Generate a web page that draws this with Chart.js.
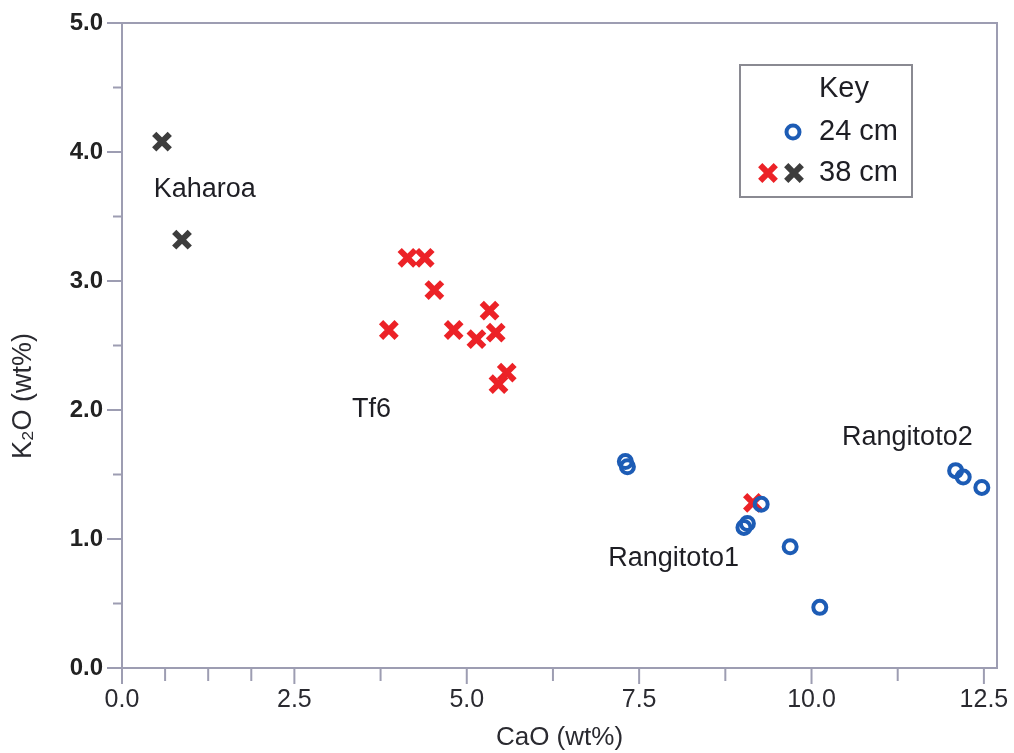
<!DOCTYPE html>
<html>
<head>
<meta charset="utf-8">
<script src="https://cdn.jsdelivr.net/npm/chart.js@4/dist/chart.umd.min.js"></script>
<style>
  html, body { margin:0; padding:0; background:#fff; }
  #wrap { width:1014px; height:753px; }
</style>
</head>
<body>
<div id="wrap"><canvas id="chart" width="1014" height="753"></canvas></div>
<script>
/* ---- data ---- */
// 24 cm samples (blue open circles)
const cm24X = [7.30, 7.33, 9.27, 9.07, 9.02, 9.69, 10.12, 12.09, 12.20, 12.47];
const cm24Y = [1.60, 1.56, 1.27, 1.12, 1.09, 0.94, 0.47, 1.53, 1.48, 1.40];
// 38 cm samples, Tf6 + one stray (red crosses)
const cm38RedX = [3.87, 4.14, 4.39, 4.53, 4.81, 5.14, 5.33, 5.42, 5.58, 5.46, 9.15];
const cm38RedY = [2.62, 3.18, 3.18, 2.93, 2.62, 2.55, 2.77, 2.60, 2.29, 2.20, 1.28];
// 38 cm samples, Kaharoa (dark crosses)
const cm38GrayX = [0.58, 0.87];
const cm38GrayY = [4.08, 3.32];

// group labels (data coords of text centre)
const groupNames = ['Kaharoa', 'Tf6', 'Rangitoto1', 'Rangitoto2'];
const groupX = [1.20, 3.62, 8.00, 11.39];
const groupY = [3.71, 2.00, 0.85, 1.79];

// axis ticks
const xTickLabels = [0, 2.5, 5, 7.5, 10, 12.5];
const xMinorTicks = [0.625, 1.25, 1.875, 3.75, 6.25, 8.75, 11.25];
const yTickLabels = [0, 1, 2, 3, 4, 5];
const yMinorTicks = [0.5, 1.5, 2.5, 3.5, 4.5];

const BLUE = '#1d5cb5', RED = '#ec2227', DARK = '#3d3d3d';
const AXIS = '#9d9db2';
const SANS = '"Liberation Sans", Arial, sans-serif';

const pts = (xs, ys) => xs.map((x, i) => ({ x, y: ys[i] }));

// tick marks, frame, group labels, key box, y title
const decor = {
  id: 'decor',
  afterDraw(chart) {
    const { ctx, chartArea: a, scales: { x, y } } = chart;
    ctx.save();
    ctx.strokeStyle = AXIS;
    ctx.lineWidth = 2;
    // top + right frame
    ctx.beginPath();
    ctx.moveTo(a.left, a.top); ctx.lineTo(a.right, a.top); ctx.lineTo(a.right, a.bottom);
    ctx.stroke();
    // outward ticks
    const tickX = (v, len) => { const p = x.getPixelForValue(v); ctx.beginPath(); ctx.moveTo(p, a.bottom); ctx.lineTo(p, a.bottom + len); ctx.stroke(); };
    const tickY = (v, len) => { const p = y.getPixelForValue(v); ctx.beginPath(); ctx.moveTo(a.left, p); ctx.lineTo(a.left - len, p); ctx.stroke(); };
    xTickLabels.forEach(v => tickX(v, 16));
    xMinorTicks.forEach(v => tickX(v, 13));
    yTickLabels.forEach(v => tickY(v, 15));
    yMinorTicks.forEach(v => tickY(v, 9));

    // group labels
    ctx.fillStyle = '#1e1e24';
    ctx.font = '27px ' + SANS;
    ctx.textAlign = 'center';
    ctx.textBaseline = 'middle';
    groupNames.forEach((n, i) => ctx.fillText(n, x.getPixelForValue(groupX[i]), y.getPixelForValue(groupY[i])));

    // key box
    const bx = a.right - 257, by = a.top + 42, bw = 172, bh = 132;
    ctx.strokeStyle = '#8a8a92';
    ctx.lineWidth = 2;
    ctx.strokeRect(bx, by, bw, bh);
    ctx.font = '29px ' + SANS;
    ctx.fillText('Key', bx + 104, by + 24);
    ctx.textAlign = 'left';
    ctx.fillText('24 cm', bx + 79, by + 67);
    ctx.fillText('38 cm', bx + 79, by + 108);
    const ds = chart.data.datasets;
    const mark = (d, px, py) => {
      ctx.strokeStyle = d.borderColor; ctx.fillStyle = d.backgroundColor; ctx.lineWidth = d.borderWidth;
      Chart.helpers.drawPoint(ctx, { pointStyle: d.pointStyle, radius: d.pointRadius, borderWidth: d.borderWidth }, px, py);
    };
    mark(ds[0], bx + 53, by + 67);
    mark(ds[1], bx + 28, by + 108);
    mark(ds[2], bx + 54, by + 108);

    // y axis title
    ctx.translate(24, 396);
    ctx.rotate(-Math.PI / 2);
    ctx.fillStyle = '#2a2a30';
    ctx.textAlign = 'center';
    ctx.font = '27px ' + SANS;
    ctx.fillText('K\u2082O (wt%)', 0, 0);
    ctx.restore();
  }
};

new Chart(document.getElementById('chart'), {
  type: 'scatter',
  data: {
    datasets: [
      { label: '24 cm', data: pts(cm24X, cm24Y), pointStyle: 'circle', pointRadius: 6.5, pointHoverRadius: 6.5,
        borderColor: BLUE, backgroundColor: 'rgba(0,0,0,0)', borderWidth: 4 },
      { label: '38 cm', data: pts(cm38RedX, cm38RedY), pointStyle: 'crossRot', pointRadius: 11, pointHoverRadius: 11,
        borderColor: RED, backgroundColor: RED, borderWidth: 6 },
      { label: '38 cm', data: pts(cm38GrayX, cm38GrayY), pointStyle: 'crossRot', pointRadius: 11, pointHoverRadius: 11,
        borderColor: DARK, backgroundColor: DARK, borderWidth: 6 },
    ],
  },
  options: {
    responsive: false,
    animation: false,
    layout: { padding: { left: 0, top: 23, right: 16, bottom: 0 } },
    plugins: { legend: { display: false }, tooltip: { enabled: false } },
    scales: {
      x: {
        type: 'linear', min: 0, max: 12.69,
        afterBuildTicks: s => { s.ticks = xTickLabels.map(v => ({ value: v })); },
        afterFit: s => { s.height = 85; s.paddingLeft = 0; s.paddingRight = 0; },
        grid: { drawOnChartArea: false, drawTicks: false },
        border: { color: AXIS, width: 2 },
        ticks: { padding: 17, color: '#2a2a30', callback: v => v.toFixed(1),
          font: { family: SANS, size: 25 } },
        title: { display: true, text: 'CaO (wt%)', color: '#2a2a30', padding: { top: 2, bottom: 0 },
          font: { family: SANS, size: 26 } },
      },
      y: {
        type: 'linear', min: 0, max: 5,
        afterBuildTicks: s => { s.ticks = yTickLabels.map(v => ({ value: v })); },
        afterFit: s => { s.width = 122; s.paddingTop = 0; s.paddingBottom = 0; },
        grid: { drawOnChartArea: false, drawTicks: false },
        border: { color: AXIS, width: 2 },
        ticks: { padding: 19, color: '#222', callback: v => v.toFixed(1),
          font: { family: SANS, size: 24, weight: 'bold' } },
      },
    },
  },
  plugins: [decor],
});
</script>
</body>
</html>
